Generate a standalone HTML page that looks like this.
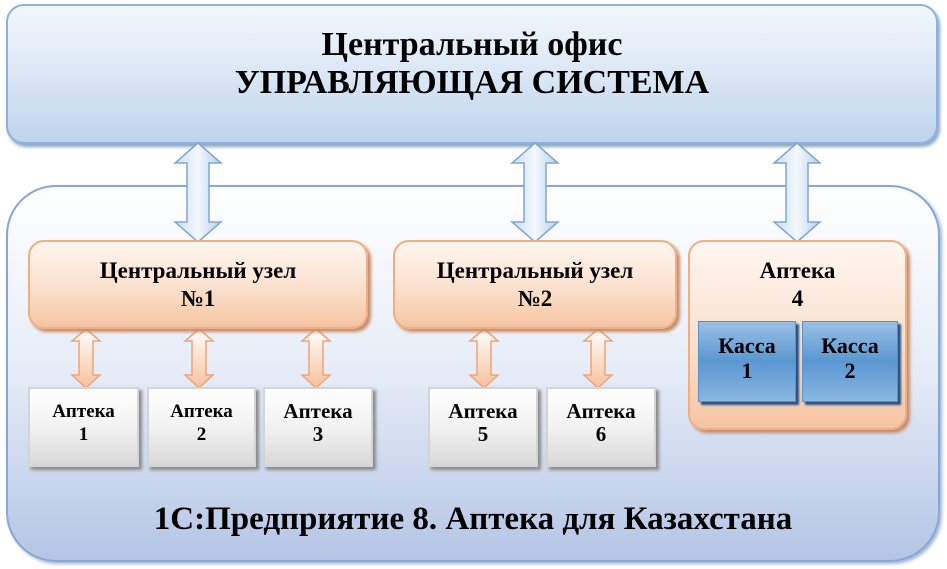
<!DOCTYPE html>
<html><head><meta charset="utf-8"><style>
body{margin:0;width:947px;height:569px;background:#fff;position:relative;overflow:hidden;font-family:"Liberation Serif","DejaVu Serif",serif;font-weight:bold;color:#000}
.a{position:absolute;box-sizing:border-box;text-align:center}
.top{left:6px;top:4px;width:932px;height:140px;border-radius:18px;border:2px solid #8db1da;background:linear-gradient(#f3f7fc,#dbe7f5 50%,#bdd4ec);box-shadow:2px 3px 3px #8aa7c8}
.outer{left:6px;top:185px;width:934px;height:377px;border-radius:50px;border:2px solid #86a8d8;background:linear-gradient(#ffffff,#e6ecf7 50%,#b3c5e5);box-shadow:2px 2px 3px #9fb4d4}
.node{border-radius:16px;border:2px solid #f2ad80;background:linear-gradient(#fff6f0,#fbe0cd 55%,#f6c5a3);box-shadow:3px 3px 3px #c48c6a;font-size:23px;line-height:28px;padding-top:15px}
.ap{border:2px solid #d4d4d4;background:linear-gradient(#ffffff,#f2f2f2 50%,#d9d9d9);box-shadow:3px 3px 3px #8a8a8a;font-size:19px;line-height:23px;padding-top:11px}
.ks{border:1px solid #5a8fc8;background:linear-gradient(#9bc0e4,#5a97d2 50%,#8bb6e2);box-shadow:3px 3px 2px #284f80;font-size:22px;line-height:25px;padding-top:11px}
</style></head><body>
<div class="a top" style="font-size:34px;line-height:38px;padding-top:20px">Центральный офис<br>УПРАВЛЯЮЩАЯ СИСТЕМА</div>
<div class="a outer"></div>
<svg class="a" style="left:0;top:0" width="947" height="569">
<defs>
<linearGradient id="bg" x1="0" x2="1"><stop offset="0" stop-color="#c9dcf0"/><stop offset=".5" stop-color="#f4f8fd"/><stop offset="1" stop-color="#b5cfea"/></linearGradient>
<linearGradient id="og" x1="0" y1="0" x2="0" y2="1"><stop offset="0" stop-color="#fff"/><stop offset="1" stop-color="#f7c09b"/></linearGradient>
</defs>
<g fill="url(#bg)" stroke="#7ea7d3" stroke-width="1.5">
<path d="M198 143 L221 163 L209 163 L209 222 L221 222 L198 242 L175 222 L187 222 L187 163 L175 163Z"/>
<path d="M535 143 L558 163 L546 163 L546 222 L558 222 L535 242 L512 222 L524 222 L524 163 L512 163Z"/>
<path d="M797 143 L820 163 L808 163 L808 222 L820 222 L797 242 L774 222 L786 222 L786 163 L774 163Z"/>
</g>
<g fill="url(#og)" stroke="#eda47a" stroke-width="1.5">
<path d="M86 329 L100 341 L93 341 L93 375 L100 375 L86 388 L72 375 L79 375 L79 341 L72 341Z"/>
<path d="M199 329 L213 341 L206 341 L206 375 L213 375 L199 388 L185 375 L192 375 L192 341 L185 341Z"/>
<path d="M316 329 L330 341 L323 341 L323 375 L330 375 L316 388 L302 375 L309 375 L309 341 L302 341Z"/>
<path d="M484 329 L498 341 L491 341 L491 375 L498 375 L484 388 L470 375 L477 375 L477 341 L470 341Z"/>
<path d="M598 329 L612 341 L605 341 L605 375 L612 375 L598 388 L584 375 L591 375 L591 341 L584 341Z"/>
</g>
</svg>
<div class="a node" style="left:28px;top:240px;width:340px;height:89px">Центральный узел<br>№1</div>
<div class="a node" style="left:393px;top:240px;width:284px;height:89px">Центральный узел<br>№2</div>
<div class="a node" style="left:688px;top:240px;width:219px;height:190px">Аптека<br>4</div>
<div class="a ks" style="left:698px;top:321px;width:98px;height:81px">Касса<br>1</div>
<div class="a ks" style="left:802px;top:321px;width:96px;height:81px">Касса<br>2</div>
<div class="a ap" style="left:28px;top:387px;width:111px;height:80px">Аптека<br>1</div>
<div class="a ap" style="left:147px;top:387px;width:109px;height:80px">Аптека<br>2</div>
<div class="a ap" style="left:263px;top:387px;width:110px;height:80px;font-size:21px">Аптека<br>3</div>
<div class="a ap" style="left:428px;top:387px;width:110px;height:80px;font-size:21px">Аптека<br>5</div>
<div class="a ap" style="left:546px;top:387px;width:110px;height:80px;font-size:21px">Аптека<br>6</div>
<div class="a" style="left:6px;top:500px;width:934px;font-size:33px;line-height:38px">1С:Предприятие 8. Аптека для Казахстана</div>
</body></html>
